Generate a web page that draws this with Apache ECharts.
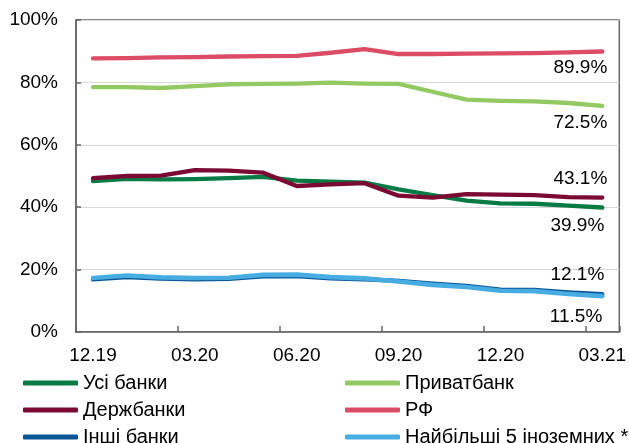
<!DOCTYPE html>
<html>
<head>
<meta charset="utf-8">
<script src="https://cdn.jsdelivr.net/npm/echarts@6/dist/echarts.min.js"></script>
<style>
  html, body { margin: 0; padding: 0; background: #fff; overflow: hidden; }
  #chart { width: 629px; height: 443px; }
</style>
</head>
<body>
<div id="chart"></div>
<script>
// Monthly periods, Dec 2019 – Mar 2021
const months = ['12.19','01.20','02.20','03.20','04.20','05.20','06.20','07.20','08.20','09.20','10.20','11.20','12.20','01.21','02.21','03.21'];

// Shares, %
const allBanks   = [48.4, 49.1, 48.9, 49.0, 49.3, 49.7, 48.5, 48.2, 47.9, 45.7, 43.9, 42.1, 41.2, 41.1, 40.5, 39.9];
const privatBank = [78.5, 78.5, 78.2, 78.8, 79.4, 79.5, 79.6, 79.9, 79.6, 79.5, 77.0, 74.5, 74.1, 73.9, 73.4, 72.5];
const stateBanks = [49.3, 50.0, 50.1, 51.9, 51.7, 51.1, 46.8, 47.3, 47.7, 43.7, 43.1, 44.2, 44.0, 43.9, 43.2, 43.1];
const rfBanks    = [87.7, 87.8, 88.0, 88.1, 88.3, 88.4, 88.5, 89.5, 90.7, 89.1, 89.1, 89.2, 89.3, 89.4, 89.6, 89.9];
const otherBanks = [16.9, 17.6, 17.1, 16.9, 17.0, 17.8, 17.9, 17.2, 16.9, 16.4, 15.5, 14.8, 13.6, 13.5, 12.7, 12.1];
const top5Foreign= [17.3, 18.1, 17.5, 17.3, 17.4, 18.3, 18.4, 17.6, 17.2, 16.2, 15.1, 14.4, 13.2, 13.1, 12.2, 11.5];

const yTicks = { min: 0, max: 100, step: 20 };

const FONT = 'Liberation Sans, Arial, sans-serif';

// Line series with a value label on the final point
function makeSeries(name, values, color, width, labelPos, offset) {
  const data = values.map((v, i) => {
    if (i !== values.length - 1) return v;
    return {
      value: v,
      label: {
        show: true,
        position: labelPos,
        distance: 7,
        align: 'right',
        offset: offset,
        formatter: p => p.value.toFixed(1) + '%',
        color: '#000',
        fontSize: 19,
        fontFamily: FONT
      }
    };
  });
  return {
    name: name,
    type: 'line',
    data: data,
    symbol: 'circle',
    symbolSize: 0,
    showSymbol: true,
    color: color,
    lineStyle: { color: color, width: width, cap: 'round', join: 'round' },
    itemStyle: { color: color },
    emphasis: { disabled: true },
    animation: false
  };
}

const chart = echarts.init(document.getElementById('chart'), null, { renderer: 'canvas' });

const legendText = { color: '#000', fontSize: 20, fontFamily: FONT, lineHeight: 20 };
const legendBase = {
  orient: 'vertical', top: 373, height: 120,
  icon: 'roundRect', itemWidth: 55, itemHeight: 5, itemGap: 7,
  textStyle: legendText, padding: 0, selectedMode: false
};

chart.setOption({
  backgroundColor: '#fff',
  animation: false,
  grid: {
    left: 76, right: 7, top: 20, bottom: 111,
    show: true, borderColor: '#666', borderWidth: 1.5, backgroundColor: 'transparent'
  },
  legend: [
    Object.assign({}, legendBase, { left: 23, data: ['Усі банки', 'Держбанки', 'Інші банки'] }),
    Object.assign({}, legendBase, { left: 345, data: ['Приватбанк', 'РФ', 'Найбільші 5 іноземних **'] })
  ],
  xAxis: {
    type: 'category',
    data: months,
    boundaryGap: true,
    axisLine: { show: true, lineStyle: { color: '#666', width: 1.5 } },
    axisTick: { show: true, inside: true, length: 6, interval: 2, lineStyle: { color: '#666', width: 1.5 } },
    axisLabel: { interval: 2, margin: 14, color: '#000', fontSize: 19, fontFamily: FONT },
    splitLine: { show: false }
  },
  yAxis: {
    type: 'value',
    min: yTicks.min, max: yTicks.max, interval: yTicks.step,
    axisLine: { show: true, lineStyle: { color: '#666', width: 1.5 } },
    axisTick: { show: true, inside: true, length: 5, lineStyle: { color: '#666', width: 1.5 } },
    axisLabel: { margin: 18, color: '#000', fontSize: 19, fontFamily: FONT, formatter: '{value}%' },
    splitLine: { show: true, lineStyle: { color: '#d5d9d9', width: 1.2 } }
  },
  series: [
    makeSeries('Усі банки', allBanks, '#087b44', 4.3, 'bottom', [2, 2]),
    makeSeries('Приватбанк', privatBank, '#92c962', 4.3, 'bottom', [5, 0]),
    makeSeries('Держбанки', stateBanks, '#7b0a33', 4.3, 'top', [5, -2]),
    makeSeries('РФ', rfBanks, '#dc4c66', 4.3, 'bottom', [5, 0]),
    makeSeries('Інші банки', otherBanks, '#0a5696', 4.3, 'top', [2, -3]),
    makeSeries('Найбільші 5 іноземних **', top5Foreign, '#46ace2', 4.6, 'bottom', [0, 4])
  ]
});
</script>
</body>
</html>
